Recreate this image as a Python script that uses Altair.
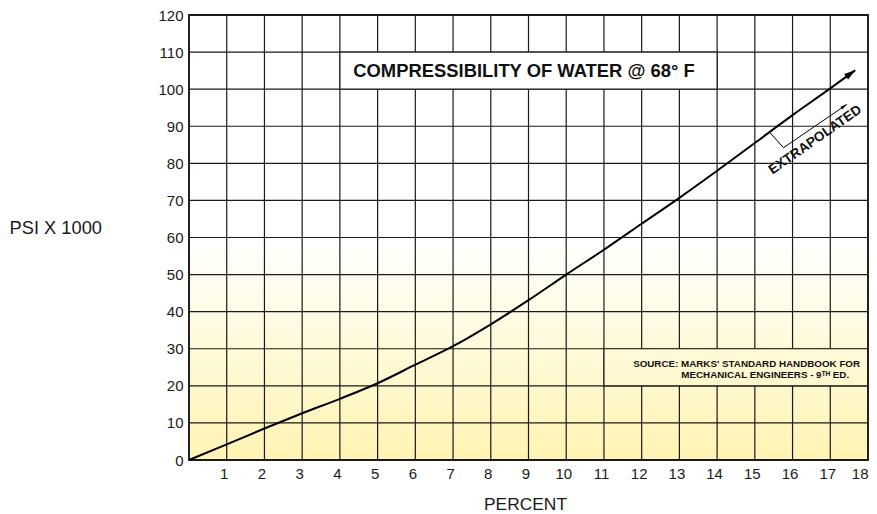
import altair as alt
import pandas as pd

# ---- data ----
percent = [0, 1, 2, 3, 4, 5, 6, 7, 8, 9, 10, 11, 12, 13, 14, 15, 16, 17, 17.66]
psi = [0, 4.2, 8.5, 12.6, 16.5, 20.7, 25.7, 30.7, 36.6, 43.1, 50, 56.7, 63.7,
       70.7, 78, 85.5, 93, 100.2, 105.1]

x_ticks = list(range(1, 19))
y_ticks = list(range(0, 121, 10))
x_grid = list(range(0, 19))
y_grid = list(range(0, 121, 10))

chart_title = "COMPRESSIBILITY OF WATER @ 68° F"
source_lines = ["SOURCE: MARKS' STANDARD HANDBOOK FOR",
                "MECHANICAL ENGINEERS - 9\u1d40\u1d34 ED."]
x_title = "PERCENT"
y_title = "PSI X 1000"
extrap_label = "EXTRAPOLATED"

# bracket marking the extrapolated part
bracket_x = [15.40, 15.76, 17.44]
bracket_y = [88.3, 84.2, 95.9]

FONT = "Liberation Sans"
xs = alt.Scale(domain=[0, 18], nice=False, zero=False)
ys = alt.Scale(domain=[0, 120], nice=False, zero=False)

PLOT_W = 679
PLOT_H = 445

x_axis = alt.Axis(
    values=x_ticks, grid=False, ticks=False, domain=False,
    labelFontSize=15, labelColor="#1a1a1a", labelFont=FONT, labelPadding=6,
    labelAlign={"expr": "datum.value == 18 ? 'right' : 'center'"},
    labelOffset={"expr": "datum.value == 18 ? 0 : -3"},
    labelBound=False, labelOverlap=False,
    title=x_title, titleFont=FONT, titleFontSize=17.4, titleFontWeight="normal",
    titleColor="#1a1a1a", titleX=336, titleY=44.5, titleBaseline="middle")
y_axis = alt.Axis(
    values=y_ticks, grid=False, ticks=False, domain=False,
    labelFontSize=15, labelColor="#1a1a1a", labelFont=FONT, labelPadding=6,
    title=y_title, titleFont=FONT, titleFontSize=18.3, titleFontWeight="normal",
    titleColor="#1a1a1a", titleAngle=0, titleAlign="left",
    titleBaseline="middle", titleX=-180, titleY=213)


def X(field):
    return alt.X(field, scale=xs, axis=x_axis, title=x_title)


def Y(field):
    return alt.Y(field, scale=ys, axis=y_axis, title=y_title)


curve = pd.DataFrame({"pct": percent, "psi": psi})
bg_df = pd.DataFrame({"x0": [0], "x1": [18], "y0": [0], "y1": [60]})
vgrid = pd.DataFrame({"x": x_grid})
hgrid = pd.DataFrame({"y": y_grid})

grad_bg = alt.Gradient(gradient="linear",
                       stops=[alt.GradientStop(color="#FFFFFF", offset=0),
                              alt.GradientStop(color="#FFF4B3", offset=1)],
                       x1=0, x2=0, y1=0, y2=1)

bg = alt.Chart(bg_df).mark_rect(color=grad_bg, strokeWidth=0).encode(
    x=X("x0:Q"), x2="x1:Q", y=Y("y0:Q"), y2="y1:Q")

vrules = alt.Chart(vgrid).mark_rule(color="#1a1a1a", strokeWidth=1.2).encode(
    x=X("x:Q"), y=alt.value(0), y2=alt.value(PLOT_H))
hrules = alt.Chart(hgrid).mark_rule(color="#1a1a1a", strokeWidth=1.2).encode(
    y=Y("y:Q"), x=alt.value(0), x2=alt.value(PLOT_W))

grad_src = alt.Gradient(gradient="linear",
                        stops=[alt.GradientStop(color="#FFF9D9", offset=0),
                               alt.GradientStop(color="#FFF8CC", offset=1)],
                        x1=0, x2=0, y1=0, y2=1)
src_box = alt.Chart(pd.DataFrame({"x0": [11], "x1": [18], "y0": [20], "y1": [30]})).mark_rect(
    color=grad_src, stroke="#1a1a1a", strokeWidth=1.2).encode(
    x=X("x0:Q"), x2="x1:Q", y=Y("y1:Q"), y2="y0:Q")

title_box = alt.Chart(pd.DataFrame({"x0": [4], "x1": [14], "y0": [100], "y1": [110]})).mark_rect(
    fill="white", stroke="#1a1a1a", strokeWidth=1.2).encode(
    x=X("x0:Q"), x2="x1:Q", y=Y("y1:Q"), y2="y0:Q")

border = alt.Chart(pd.DataFrame({"x0": [0], "x1": [18], "y0": [0], "y1": [120]})).mark_rect(
    fill=None, stroke="#1a1a1a", strokeWidth=1.8).encode(
    x=X("x0:Q"), x2="x1:Q", y=Y("y1:Q"), y2="y0:Q")

line = alt.Chart(curve).mark_line(color="black", strokeWidth=2, interpolate="monotone").encode(
    x=X("pct:Q"), y=Y("psi:Q"))

tip = alt.Chart(curve.tail(1)).mark_point(
    shape="M0,0L-0.3,1L0.3,1Z", filled=True, color="black", opacity=1,
    size=500, angle=54).encode(x=X("pct:Q"), y=Y("psi:Q"))

bracket_df = pd.DataFrame({"bx": bracket_x, "by": bracket_y, "o": [0, 1, 2]})
bracket = alt.Chart(bracket_df).mark_line(color="black", strokeWidth=1).encode(
    x=X("bx:Q"), y=Y("by:Q"), order="o:Q")
bracket_tip = alt.Chart(bracket_df.tail(1)).mark_point(
    shape="M0,0L-0.25,1L0.25,1Z", filled=True, color="black", opacity=1,
    size=180, angle=55).encode(x=X("bx:Q"), y=Y("by:Q"))

title_txt = alt.Chart(pd.DataFrame({"t": [chart_title], "x": [8.88], "y": [105]})).mark_text(
    font=FONT, fontSize=18.4, fontWeight="bold", color="#111", align="center",
    baseline="middle").encode(x=X("x:Q"), y=Y("y:Q"), text="t:N")

src_txt = alt.Chart(pd.DataFrame({"t": source_lines, "x": [17.79, 17.5], "y": [25.8, 22.8]})).mark_text(
    font=FONT, fontSize=9.8, fontWeight="bold", color="#111", align="right",
    baseline="middle").encode(x=X("x:Q"), y=Y("y:Q"), text="t:N")

extrap_txt = alt.Chart(pd.DataFrame({"t": [extrap_label], "x": [16.6], "y": [86.3]})).mark_text(
    font=FONT, fontSize=13.6, fontWeight="bold", color="#111", align="center",
    baseline="middle", angle=325).encode(x=X("x:Q"), y=Y("y:Q"), text="t:N")

chart = alt.layer(
    bg, vrules, hrules, src_box, title_box, border, line, tip, bracket, bracket_tip,
    title_txt, src_txt, extrap_txt
).properties(
    width=PLOT_W, height=PLOT_H,
    autosize=alt.AutoSizeParams(type="none"),
    padding={"left": 181, "top": 7, "right": 1, "bottom": 60},
    background="white",
).configure_view(stroke=None)

chart.save("out.html", embed_options={"renderer": "svg", "actions": False})
